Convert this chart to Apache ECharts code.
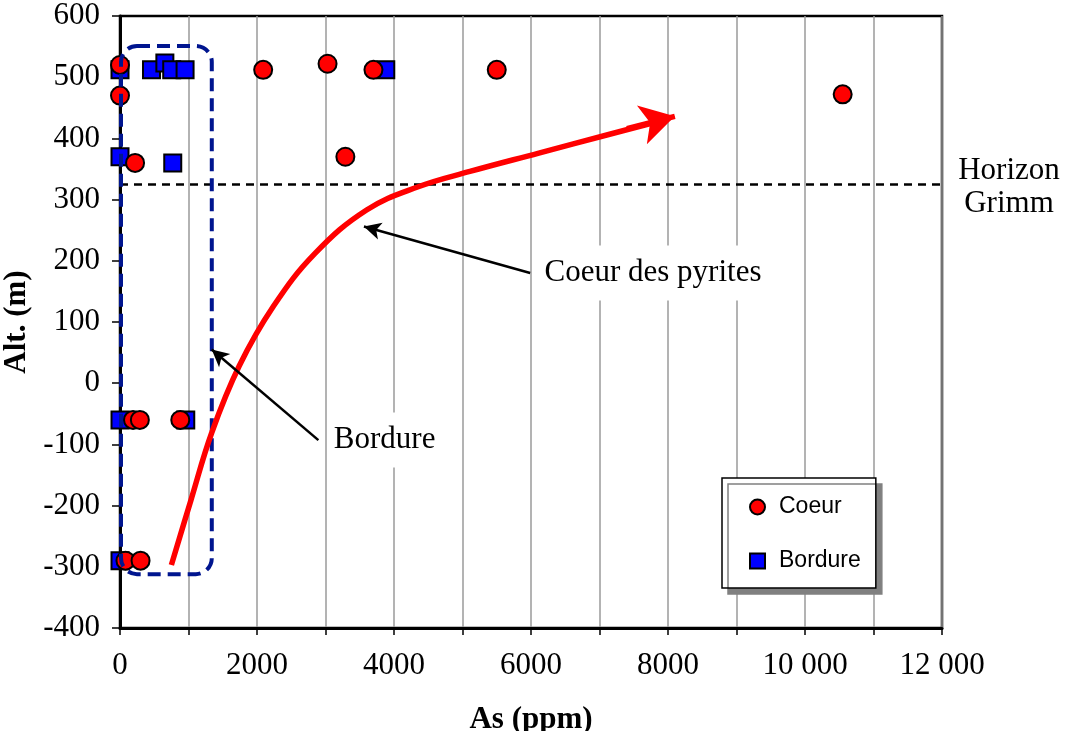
<!DOCTYPE html>
<html>
<head>
<meta charset="utf-8">
<script src="https://cdn.jsdelivr.net/npm/echarts@6/dist/echarts.min.js"></script>
<style>
html,body{margin:0;padding:0;background:#fff;}
#chart{width:1065px;height:731px;}
</style>
</head>
<body>
<div id="chart"></div>
<script>
// ---- data ----
var coeurData = [
  [0, 520], [0, 470], [220, 360], [2090, 512], [3030, 522], [3700, 512],
  [5500, 512], [10550, 472], [3290, 370], [190, -60], [290, -60], [880, -60],
  [80, -290], [300, -290]
];
var bordureData = [
  [0, 512], [460, 512], [655, 523], [755, 512], [950, 512], [0, 370],
  [770, 360], [3880, 512], [0, -60], [960, -60], [0, -290]
];
var trendCurve = [
  [750, -297], [1036, -191], [1339, -81], [1740, 28], [2242, 126], [2847, 212],
  [3600, 283], [4355, 321], [5108, 346], [6114, 376], [7120, 406], [7800, 426]
];
var trendArrow = [[7400, 416], [8100, 436]];
var horizonY = 325;
var horizonLabel = 'Horizon\nGrimm';
var bordureBox = [[0, 551], [1340, -312]];
var coeurArrow = [[5988, 180], [3561, 256]];
var bordureArrow = [[2896, -93], [1339, 55]];
var coeurText = {text: 'Coeur des pyrites', at: [6139, 180]};
var bordureText = {text: 'Bordure', at: [3063, -93]};
var xMin = 0, xMax = 12000, xStep = 1000;
var yMin = -400, yMax = 600, yStep = 100;

var serif = "'Liberation Serif', 'Times New Roman', serif";
var sans = "'Liberation Sans', Arial, sans-serif";

var chart = echarts.init(document.getElementById('chart'));

function fmtX(v) {
  if (v % 2000 !== 0) return '';
  var s = String(v);
  if (v >= 10000) s = s.slice(0, s.length - 3) + ' ' + s.slice(s.length - 3);
  return s;
}

chart.setOption({
  animation: false,
  backgroundColor: '#fff',
  grid: {left: 120, right: 123, top: 16, bottom: 103, containLabel: false, outerBoundsMode: 'none',
         show: true, borderColor: '#000', borderWidth: 2.5, backgroundColor: 'transparent'},
  legend: {
    data: ['Coeur', 'Bordure'],
    orient: 'vertical',
    left: 722, top: 478,
    padding: [17, 15, 15, 27],
    itemWidth: 15, itemHeight: 15, itemGap: 30,
    backgroundColor: '#fff',
    borderColor: '#000', borderWidth: 1.5,
    shadowColor: '#808080', shadowOffsetX: 6, shadowOffsetY: 6, shadowBlur: 0,
    textStyle: {fontFamily: sans, fontSize: 23, color: '#000', lineHeight: 24, padding: [0, 0, 0, 9]}
  },
  xAxis: {
    type: 'value', min: xMin, max: xMax, interval: xStep,
    name: 'As (ppm)', nameLocation: 'middle', nameGap: 76,
    nameTextStyle: {fontFamily: serif, fontSize: 31, fontWeight: 'bold', color: '#000'},
    axisLine: {show: true, onZero: false, lineStyle: {color: '#000', width: 3}},
    axisTick: {show: true, inside: false, length: 7, lineStyle: {color: '#000', width: 1.5}},
    axisLabel: {fontFamily: serif, fontSize: 31, color: '#000', margin: 22, formatter: fmtX},
    splitLine: {show: true, lineStyle: {color: '#9a9a9a', width: 1.5}}
  },
  yAxis: {
    type: 'value', min: yMin, max: yMax, interval: yStep,
    name: 'Alt. (m)', nameLocation: 'middle', nameGap: 70,
    nameTextStyle: {fontFamily: serif, fontSize: 31, fontWeight: 'bold', color: '#000'},
    axisLine: {show: true, onZero: false, lineStyle: {color: '#000', width: 3}},
    axisTick: {show: true, inside: false, length: 8, lineStyle: {color: '#000', width: 1.5}},
    axisLabel: {fontFamily: serif, fontSize: 31, color: '#000', margin: 20},
    splitLine: {show: false}
  },
  series: [
    {
      name: 'Bordure', type: 'scatter', data: bordureData, symbol: 'rect', symbolSize: 17, z: 4,
      itemStyle: {color: '#0000ff', borderColor: '#000', borderWidth: 2, opacity: 1}
    },
    {
      name: 'Coeur', type: 'scatter', data: coeurData, symbol: 'circle', symbolSize: 18, z: 5,
      itemStyle: {color: '#ff0000', borderColor: '#000', borderWidth: 2, opacity: 1}
    },
    {
      name: 'trend', type: 'line', data: trendCurve, smooth: 0.4, showSymbol: false, symbol: 'none', z: 11,
      lineStyle: {color: '#ff0000', width: 5.5}, silent: true,
      markLine: {
        silent: true, symbol: ['none', 'arrow'], symbolSize: [30, 34], z: 11,
        lineStyle: {color: '#ff0000', width: 5.5, type: 'solid'},
        label: {show: false},
        data: [[{coord: trendArrow[0]}, {coord: trendArrow[1]}]]
      }
    },
    {
      name: 'annot', type: 'scatter', data: [], z: 12, silent: true,
      markLine: {
        silent: true, symbol: ['none', 'arrow'], symbolSize: [13, 17], z: 12,
        lineStyle: {color: '#000', width: 2.5, type: 'solid'},
        label: {show: false},
        data: [
          [{coord: coeurArrow[0]}, {coord: coeurArrow[1]}],
          [{coord: bordureArrow[0]}, {coord: bordureArrow[1]}]
        ]
      }
    },
    {
      name: 'horizon', type: 'scatter', data: [], z: 3, silent: true,
      markLine: {
        silent: true, symbol: ['none', 'none'], z: 3,
        lineStyle: {color: '#000', width: 2.5, type: [8, 6]},
        label: {show: false},
        data: [[{coord: [xMin, horizonY]}, {coord: [xMax, horizonY]}]]
      }
    }
  ]
});

function px(p) { return chart.convertToPixel({gridIndex: 0}, p); }
var b0 = px(bordureBox[0]), b1 = px(bordureBox[1]);
var ct = px(coeurText.at), bt = px(bordureText.at);
var hz = px([xMax, horizonY]);
chart.setOption({
  graphic: [
    {
      type: 'rect', z: 10, silent: true,
      shape: {x: b0[0] + 1, y: b0[1], width: b1[0] - b0[0] - 1, height: b1[1] - b0[1], r: 16},
      style: {fill: 'none', stroke: '#00158f', lineWidth: 4, lineDash: [13, 7]}
    },
    {
      type: 'text', z: 1, silent: true, x: ct[0], y: ct[1],
      style: {text: coeurText.text, font: '31px ' + serif, fill: '#000', align: 'left', verticalAlign: 'middle',
              backgroundColor: '#fff', padding: [12, 4, 12, 4]}
    },
    {
      type: 'text', z: 1, silent: true, x: bt[0], y: bt[1],
      style: {text: bordureText.text, font: '31px ' + serif, fill: '#000', align: 'left', verticalAlign: 'middle',
              backgroundColor: '#fff', padding: [12, 4, 12, 4]}
    },
    {
      type: 'text', z: 1, silent: true, x: hz[0] + 67, y: hz[1] + 3,
      style: {text: horizonLabel, font: '31px ' + serif, fill: '#000', align: 'center', verticalAlign: 'middle', lineHeight: 33}
    }
  ]
});
</script>
</body>
</html>
